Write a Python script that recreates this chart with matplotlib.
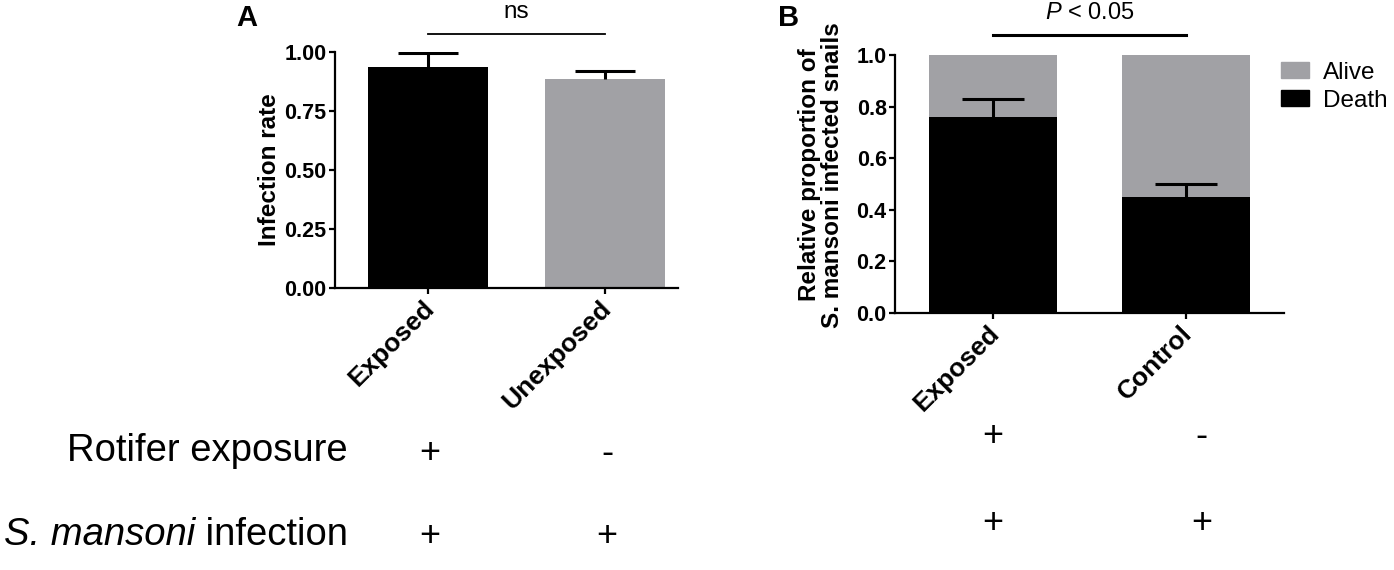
import matplotlib
matplotlib.use("Agg")
import matplotlib.pyplot as plt
from matplotlib.patches import Patch
from matplotlib.transforms import ScaledTranslation

plt.rcParams['font.family'] = ['Liberation Sans', 'DejaVu Sans']
plt.rcParams['mathtext.fontset'] = 'custom'
plt.rcParams['mathtext.rm'] = 'Liberation Sans'
plt.rcParams['mathtext.it'] = 'Liberation Sans:italic'

# panel A: infection rate
groups_a = ['Exposed', 'Unexposed']
rate_a = [0.936, 0.886]
rate_err_a = [0.059, 0.034]
colors_a = ['black', '#a1a1a5']

# panel B: proportion of dead / alive infected snails
groups_b = ['Exposed', 'Control']
death_b = [0.76, 0.45]
death_err_b = [0.07, 0.05]

# condition table under the bars
exposure_a = ['+', '-']
infection_a = ['+', '+']
exposure_b = ['+', '-']
infection_b = ['+', '+']

GRAY = '#a1a1a5'
W, H = 1394, 570

fig = plt.figure(figsize=(W / 100, H / 100), dpi=100)


def px(x, y):
    return x / W, 1 - y / H


def style_axis(ax, groups):
    for s in ['top', 'right']:
        ax.spines[s].set_visible(False)
    for s in ['left', 'bottom']:
        ax.spines[s].set_linewidth(1.6)
    ax.tick_params(width=1.6, length=4.5, pad=1.5)
    ax.tick_params(axis='y', labelsize=15.5)
    for lab in ax.get_yticklabels():
        lab.set_fontweight('bold')
    ax.set_xticklabels(groups, rotation=45, ha='right', va='top',
                       rotation_mode='anchor', fontsize=19, fontweight='bold')
    shift = ScaledTranslation(-0.06, 0, fig.dpi_scale_trans)
    for lab in ax.get_xticklabels():
        lab.set_transform(lab.get_transform() + shift)


def up_errors(ax, xs, tops, errs, half):
    # only the upper half of the error bar, as in the figure
    ends = [t + e for t, e in zip(tops, errs)]
    ax.vlines(xs, tops, ends, color='black', lw=2.2)
    ax.hlines(ends, [x - half for x in xs], [x + half for x in xs],
              color='black', lw=2.2)


# ---- panel A ----
axa = fig.add_axes([335 / W, 1 - 288 / H, (678 - 335) / W, (288 - 52) / H])
xa = list(range(len(groups_a)))
axa.bar(xa, rate_a, width=0.68, color=colors_a)
up_errors(axa, xa, rate_a, rate_err_a, 0.17)
axa.set_xlim(-0.525, 1.412)
axa.set_ylim(0, 1.0)
axa.set_yticks([0, 0.25, 0.5, 0.75, 1.0])
axa.set_yticklabels(['%.2f' % v for v in [0, 0.25, 0.5, 0.75, 1.0]])
axa.set_xticks(xa)
style_axis(axa, groups_a)
axa.plot([0, 1], [1.076, 1.076], color='black', lw=1.3, clip_on=False)
axa.text(0.5, 1.17, 'ns', ha='center', va='center', fontsize=17.5)

# ---- panel B ----
axb = fig.add_axes([895 / W, 1 - 313 / H, (1284 - 895) / W, (313 - 55) / H])
xb = list(range(len(groups_b)))
alive_b = [1 - d for d in death_b]
axb.bar(xb, death_b, width=0.668, color='black', label='Death')
axb.bar(xb, alive_b, width=0.668, bottom=death_b, color=GRAY, label='Alive')
up_errors(axb, xb, death_b, death_err_b, 0.16)
axb.set_xlim(-0.508, 1.508)
axb.set_ylim(0, 1.0)
axb.set_yticks([0, 0.2, 0.4, 0.6, 0.8, 1.0])
axb.set_yticklabels(['%.1f' % v for v in [0, 0.2, 0.4, 0.6, 0.8, 1.0]])
axb.set_xticks(xb)
style_axis(axb, groups_b)
axb.plot([0, 1], [1.078, 1.078], color='black', lw=2.2, clip_on=False)
axb.text(0.5, 1.163, r'$\mathit{P}$ < 0.05', ha='center', va='center', fontsize=17)

handles = [Patch(color=GRAY, label='Alive'), Patch(color='black', label='Death')]
axb.legend(handles=handles, loc='upper left', bbox_to_anchor=px(1271, 52),
           bbox_transform=fig.transFigure, frameon=False, fontsize=17.5,
           handlelength=1.18, handleheight=0.64, handletextpad=0.55,
           labelspacing=0.25, borderaxespad=0)

# y labels and panel letters
fig.text(*px(270, 170), 'Infection rate', rotation=90, ha='center', va='center',
         fontsize=17.5, fontweight='bold')
fig.text(*px(821, 175), 'Relative proportion of\nS. mansoni infected snails',
         rotation=90, ha='center', va='center', fontsize=17.5, fontweight='bold',
         linespacing=1.05, multialignment='center')
fig.text(*px(236, 4), 'A', ha='left', va='top', fontsize=21, fontweight='bold')
fig.text(*px(778, 4), 'B', ha='left', va='top', fontsize=21, fontweight='bold')

# condition table
fig.text(*px(348, 461), 'Rotifer exposure', ha='right', va='baseline', fontsize=27.5)
t_inf = fig.text(*px(348, 545), ' infection', ha='right', va='baseline', fontsize=27.5)
renderer = fig.canvas.get_renderer()
left_edge = t_inf.get_window_extent(renderer).x0
fig.text(left_edge / W, 1 - 545 / H, 'S. mansoni', ha='right', va='baseline',
         fontsize=27.5, style='italic')
for x, s in zip([430, 607], exposure_a):
    fig.text(*px(x, 463), s, ha='center', va='baseline', fontsize=26)
for x, s in zip([430, 607], infection_a):
    fig.text(*px(x, 546), s, ha='center', va='baseline', fontsize=26)
for x, s in zip([993, 1201], exposure_b):
    fig.text(*px(x, 446), s, ha='center', va='baseline', fontsize=26)
for x, s in zip([993, 1202], infection_b):
    fig.text(*px(x, 533), s, ha='center', va='baseline', fontsize=26)

fig.savefig('out.png', dpi=100)
